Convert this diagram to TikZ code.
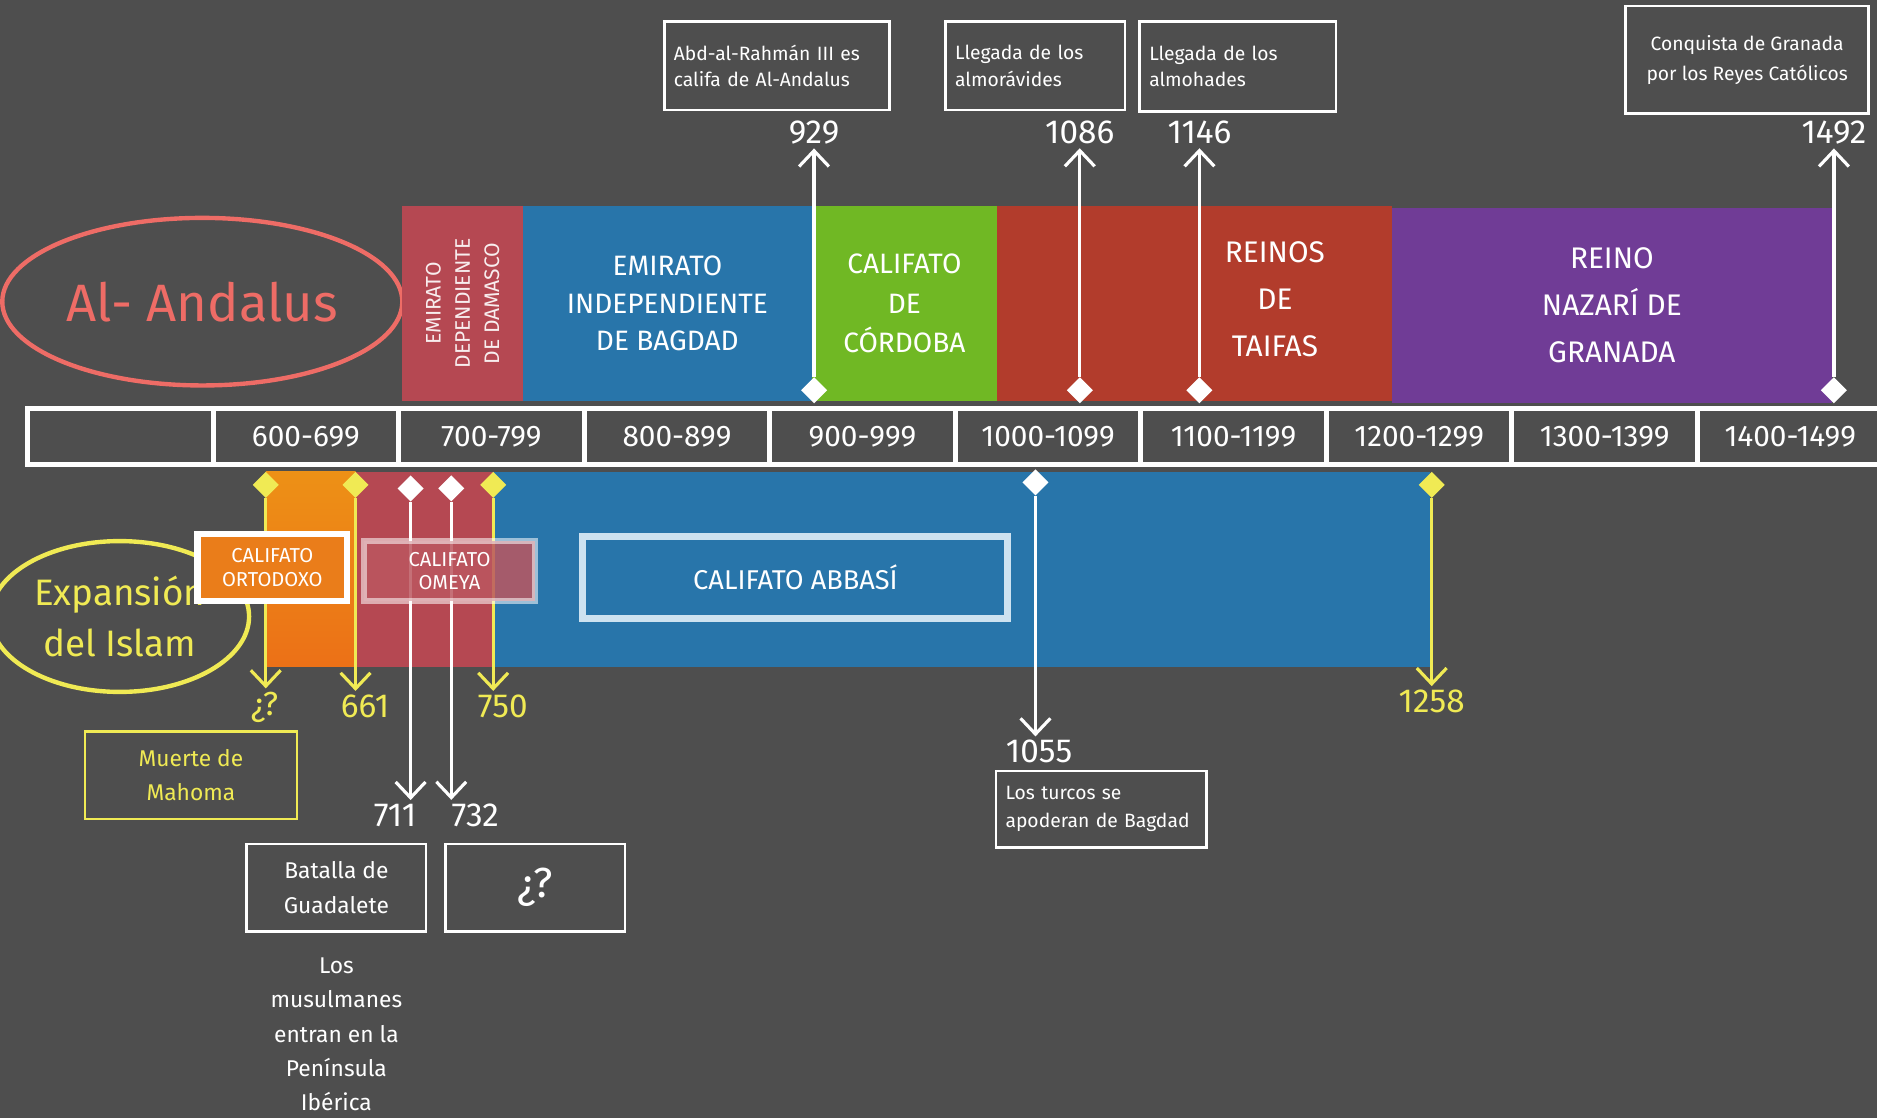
\documentclass[tikz,border=0pt]{standalone}
\usepackage{fontspec}
\setmainfont{Fira Sans}
\usetikzlibrary{arrows.meta,shapes.geometric,positioning}

\definecolor{pizarra}{RGB}{78,78,78}
\definecolor{rosa}{RGB}{181,72,82}
\definecolor{azul}{RGB}{40,117,170}
\definecolor{verde}{RGB}{112,184,36}
\definecolor{rojo}{RGB}{178,60,44}
\definecolor{morado}{RGB}{112,60,150}
\definecolor{naranja}{RGB}{234,125,26}
\definecolor{salmon}{RGB}{238,108,102}
\definecolor{tiza}{RGB}{240,234,84}
\definecolor{azulclaro}{RGB}{205,226,240}

\newcommand{\tam}[2]{\fontsize{#1}{#2}\selectfont}

\tikzset{
  caja/.style 2 args={minimum width=#1*0.24mm, minimum height=#2*0.24mm},
  band/.style={fill=#1, inner sep=0pt, text=white, align=center},
  cell/.style={draw=white, line width=2.8pt, inner sep=0pt, text=white, font=\tam{17}{19}},
  hito/.style={diamond, fill=#1, inner sep=0pt, minimum width=15pt, minimum height=15pt},
  year/.style={text=#1, font=\tam{19}{21}, inner sep=2pt},
  flecha/.style={draw=#1, line width=1.8pt, -{Straight Barb[length=9pt,width=17pt]}},
  nota/.style={draw=#1, line width=1.4pt, text=#1, align=center, inner sep=0pt},
  califa/.style={inner sep=0pt, line width=3.5pt, text=white, align=center}
}

\begin{document}
\begin{tikzpicture}[x=0.024cm, y=-0.024cm]
    \useasboundingbox (0,0) rectangle (1568,934);
    \fill[pizarra] (0,0) rectangle (1568,934);

    % Al-Andalus
    \node[ellipse, draw=salmon, line width=2.5pt, caja={328}{140},
        text=salmon, font=\tam{30}{32}] (andalus) at (169,252) {Al- Andalus};
    \node[band=rosa, caja={101}{163}] (damasco) at (386.5,253.5) {};
    \node[rotate=90, text=white!90!rosa, align=center, font=\tam{12}{16.7}] at (damasco) {EMIRATO\\DEPENDIENTE\\DE DAMASCO};
    \node[band=azul, caja={241}{163}, font=\tam{16}{21.4}] (bagdad) at (557.5,253.5) {EMIRATO\\INDEPENDIENTE\\DE BAGDAD};
    \node[band=verde, caja={155}{163}, font=\tam{16}{22.4}] (cordoba) at (755.5,253.5) {CALIFATO\\DE\\CÓRDOBA};
    \node[band=rojo, caja={330}{163}] (taifas) at (998,253.5) {};
    \node[text=white, align=center, font=\tam{17}{27}] at (1065,250) {REINOS\\DE\\TAIFAS};
    \node[band=morado, caja={367}{163}, font=\tam{17}{27}] (nazari) at (1346.5,255) {REINO\\NAZARÍ DE\\GRANADA};

    % siglos
    \foreach \lab [count=\i from 0] in {{},600-699,700-799,800-899,900-999,1000-1099,1100-1199,1200-1299,1300-1399,1400-1499}
        \node[cell, caja={155}{47}] (c\i) at ({100.5+155*\i},364.5) {\lab};

    \foreach \px/\anio in {680/929, 902/1086, 1002/1146, 1532/1492}{
        \node[hito=white] (d\anio) at (\px,326) {};
        \node[year=white] (y\anio) at (\px,111) {\anio};
        \draw[flecha=white] (d\anio.north) -- (d\anio.north |- y\anio.south);
    }

    \node[nota=white, caja={188}{74}, font=\tam{11}{15}, align=left, text width=41.3mm] (abd) at (649,55) {Abd-al-Rahmán III es\\califa de Al-Andalus};
    \node[nota=white, caja={150}{74}, font=\tam{11}{15}, align=left, text width=32.2mm] (almoravides) at (865,55) {Llegada de los\\almorávides};
    \node[nota=white, caja={164}{75}, font=\tam{11}{15}, align=left, text width=35.5mm] (almohades) at (1034,55.5) {Llegada de los\\almohades};
    \node[nota=white, caja={203}{90}, font=\tam{11}{17}] (granada) at (1459.5,50) {Conquista de Granada\\por los Reyes Católicos};

    % Expansion del Islam
    \node[ellipse, draw=tiza, line width=2.5pt, caja={204}{126},
        text=tiza, align=center, font=\tam{21}{28.6}] (islam) at (100,515) {Expansión\\del Islam};
    \node[caja={75}{163}, inner sep=0pt, top color=naranja!85!yellow, bottom color=naranja!90!red] (ortobar) at (259.5,475.5) {};
    \node[band=rosa, caja={115}{163}] (omebar) at (354.5,475.5) {};
    \node[band=azul, caja={783}{163}] (abbbar) at (803.5,475.5) {};

    \foreach \px/\lx/\ly/\anio/\nom in {222/221/591/¿?/q, 297/305/590/661/661, 412/420/590/750/750, 1196/1196/586/1258/1258}{
        \node[hito=tiza] (d\nom) at (\px,405) {};
        \node[year=tiza] (y\nom) at (\lx,\ly) {\anio};
        \draw[flecha=tiza] (d\nom.south) -- (d\nom.south |- y\nom.north);
    }
    \foreach \px/\py/\lx/\ly/\anio in {343/408/330/681/711, 377/408/397/681/732, 865/403/868/628/1055}{
        \node[hito=white] (d\anio) at (\px,\py) {};
        \node[year=white] (y\anio) at (\lx,\ly) {\anio};
        \draw[flecha=white] (d\anio.south) -- (d\anio.south |- y\anio.north);
    }

    \node[califa, caja={125}{56}, fill=naranja, draw=white, font=\tam{11.5}{13.6}] (ortodoxo) at (227.5,474) {CALIFATO\\ORTODOXO};
    \node[califa, caja={143}{50}, fill=rosa!92!white, fill opacity=0.85, text opacity=1,
        draw=white, draw opacity=0.55, font=\tam{11.5}{13.6}] (omeya) at (375.5,477) {CALIFATO\\OMEYA};
    \node[califa, caja={355}{69}, fill=azul, draw=azulclaro, line width=4pt, font=\tam{15.5}{18}] (abbasi) at (664.5,482.5) {CALIFATO ABBASÍ};

    \node[nota=tiza, caja={177}{73}, font=\tam{13}{19.5}] (mahoma) at (159.5,647.5) {Muerte de\\Mahoma};
    \node[nota=white, caja={150}{73}, font=\tam{13}{19.5}] (guadalete) at (281,741.5) {Batalla de\\Guadalete};
    \node[nota=white, caja={150}{73}, font=\tam{24}{26}] (poitiers) at (447,741.5) {¿?};
    \node[nota=white, caja={176}{64}, font=\tam{11}{16}, align=left, text width=38.4mm] (turcos) at (920,676) {Los turcos se\\apoderan de Bagdad};
    \node[text=white, align=center, font=\tam{13}{19.5}, below=11pt of guadalete] (musulmanes) {Los\\musulmanes\\entran en la\\Península\\Ibérica};
\end{tikzpicture}
\end{document}
